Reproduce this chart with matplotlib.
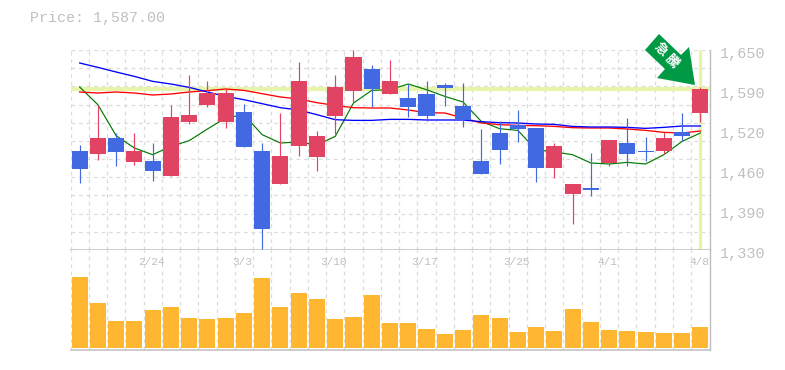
import matplotlib
matplotlib.use("Agg")
import matplotlib.pyplot as plt
from matplotlib.patches import Polygon
from matplotlib.transforms import ScaledTranslation

plt.rcParams['font.family'] = ['Noto Sans CJK JP', 'DejaVu Sans']

opens = [1488.9,1484.1,1509.7,1471.3,1472.9,1448.9,1535.3,1562.5,1535.3,1551.3,1488.9,1436.1,1496.9,1479.3,1544.9,1584.9,1620.1,1580.1,1573.7,1580.1,1594.5,1560.9,1472.9,1517.7,1530.5,1525.7,1461.7,1420.1,1429.7,1469.7,1501.7,1489.0,1489.0,1519.3,1549.7]
closes = [1460.1,1509.7,1487.3,1488.9,1456.9,1543.3,1546.5,1581.7,1581.7,1495.3,1364.1,1480.9,1600.9,1512.9,1591.3,1639.3,1588.1,1600.9,1559.3,1544.9,1589.7,1538.5,1452.1,1490.5,1524.1,1461.7,1496.9,1436.1,1426.5,1506.5,1484.1,1487.0,1509.7,1512.9,1587.0]
highs = [1498.5,1562.5,1517.7,1517.7,1501.7,1562.5,1610.5,1600.9,1588.1,1564.1,1501.7,1549.7,1631.3,1520.9,1610.5,1650.5,1626.5,1634.5,1596.1,1600.9,1597.7,1597.7,1524.1,1536.9,1554.5,1525.7,1501.7,1436.1,1485.7,1506.5,1541.7,1511.3,1519.3,1549.7,1591.3]
lows = [1437.7,1474.5,1464.9,1466.5,1440.9,1448.9,1532.1,1559.3,1525.7,1495.3,1331.0,1436.1,1480.9,1456.9,1516.1,1567.3,1559.3,1580.1,1543.3,1536.9,1560.9,1527.3,1452.1,1468.1,1503.3,1439.3,1445.7,1372.1,1416.9,1464.9,1464.9,1472.9,1484.1,1505.0,1535.3]
ma_long = [1629.2,1622.2,1614.8,1607.8,1599.8,1595.6,1590.2,1582.8,1575.8,1570.5,1564.1,1557.7,1554.0,1546.5,1538.5,1537.4,1537.4,1539.0,1539.0,1538.0,1538.0,1538.0,1535.3,1533.7,1533.2,1531.6,1531.0,1527.8,1526.8,1526.8,1526.2,1524.6,1526.2,1528.4,1528.4]
ma_mid = [1582.8,1581.2,1582.8,1581.2,1578.0,1579.6,1582.8,1584.9,1587.6,1585.4,1580.1,1574.8,1571.6,1565.7,1561.4,1557.7,1557.2,1557.2,1554.0,1549.7,1549.2,1541.2,1533.2,1530.5,1529.4,1528.9,1527.8,1525.7,1525.2,1525.2,1523.6,1521.4,1518.2,1517.2,1520.4]
ma_short = [1590.8,1562.5,1512.9,1493.2,1482.5,1495.9,1504.9,1523.6,1541.2,1546.5,1514.5,1501.2,1502.8,1498.0,1511.8,1565.2,1585.4,1586.5,1595.6,1586.5,1575.8,1566.8,1535.8,1524.1,1521.4,1490.5,1486.8,1482.5,1469.2,1467.6,1470.2,1467.6,1482.5,1503.8,1517.2]
volumes = [213,135,81,81,114,123,90,87,90,105,210,123,165,147,87,93,159,75,75,57,42,54,99,90,48,63,51,117,78,54,51,48,45,45,63]
date_idx = [4,9,14,19,24,29,34]
date_labels = ['2/24','3/3','3/10','3/17','3/25','4/1','4/8']
price_ticks = [1650,1586,1522,1458,1394,1330]
price_labels = ['1,650','1,590','1,520','1,460','1,390','1,330']
last_price = 1587.0

W, H = 785, 370
UP, DOWN = '#E14462', '#4169E1'
GRID, SPINE, TXT = '#DCDCDC', '#BEBEBE', '#C0C0C0'
BAND = '#E6F5AA'
MONO = 'Liberation Mono'

fig = plt.figure(figsize=(W/100, H/100), dpi=100, facecolor='white')
L, R = 70.5, 709.5
ax = fig.add_axes([L/W, 1-250/H, (R-L)/W, 200/H])
av = fig.add_axes([L/W, 1-350/H, (R-L)/W, 100/H], sharex=ax)
n = len(opens)
xs = list(range(n))

for a in (ax, av):
    a.set_xlim(-0.5, n-0.5)
    a.set_axisbelow(True)
    for i in range(n+1):
        a.axvline(i-0.5, color=GRID, lw=0.9, ls=(0, (3, 3)), zorder=0)
    for s in a.spines.values():
        s.set_visible(False)
    a.tick_params(length=0)

ax.set_ylim(1330, 1650)
for k in range(12):
    ax.axhline(1330 + k*320/11, color=GRID, lw=0.9, ls=(0, (3, 3)), zorder=0)

ax.axhline(last_price, color=BAND, lw=3.0, zorder=1)
ax.plot([n-1, n-1], [1330, 1650], color=BAND, lw=2.4, zorder=1, solid_capstyle='butt')

ax.plot(xs, ma_short, color='#007A00', lw=0.85, zorder=2)
ax.plot(xs, ma_mid, color='#FF0000', lw=0.95, zorder=2)
ax.plot(xs, ma_long, color='#0000FF', lw=0.95, zorder=2)

for i in xs:
    c = UP if closes[i] >= opens[i] else DOWN
    ax.plot([i, i], [lows[i], highs[i]], color=c, lw=0.85, zorder=3, solid_capstyle='butt', clip_on=False)
    ax.bar(i, abs(closes[i]-opens[i]), bottom=min(opens[i], closes[i]), width=0.88, color=c, zorder=3, lw=0)

ax.yaxis.tick_right()
ax.set_yticks(price_ticks, price_labels, fontsize=10.9, color=TXT, family=MONO)
ax.tick_params(axis='y', pad=7.5)
off = ScaledTranslation(0, -2.7/100, fig.dpi_scale_trans)
for t in ax.get_yticklabels():
    t.set_transform(t.get_transform() + off)
ax.tick_params(axis='x', labelbottom=False)

av.bar(xs, volumes, width=0.88, color='#FFB732', lw=0, zorder=2)
av.set_ylim(-6, 294)
av.set_yticks([])
av.set_xticks([])
for i, lab in zip(date_idx, date_labels):
    av.text(i - 0.08, 258, lab, ha='center', va='center', fontsize=8.0, color=TXT, family=MONO, zorder=3)

for a in (ax, av):
    a.spines['bottom'].set_visible(True)
    a.spines['bottom'].set_color(SPINE)
    a.spines['bottom'].set_linewidth(1.1)
    a.spines['right'].set_visible(True)
    a.spines['right'].set_color(SPINE)
    a.spines['right'].set_linewidth(1.0)

def P(x, y):
    return (x/W, 1-y/H)
arrow = [(659, 34), (645, 50), (665, 69), (657, 78), (695, 85), (689, 47), (681, 55)]
fig.add_artist(Polygon([P(*p) for p in arrow], closed=True, transform=fig.transFigure, fc='#009944', ec='none', zorder=5))
fig.text(*P(661, 49), '急', fontsize=9.5, color='white', rotation=-45, ha='center', va='center', weight='bold', zorder=6)
fig.text(*P(672, 61), '騰', fontsize=9.5, color='white', rotation=-45, ha='center', va='center', weight='bold', zorder=6)

fig.text(*P(30, 18), 'Price: 1,587.00', fontsize=10.8, color=TXT, family=MONO, ha='left', va='center')

fig.savefig('out.png', dpi=100)
